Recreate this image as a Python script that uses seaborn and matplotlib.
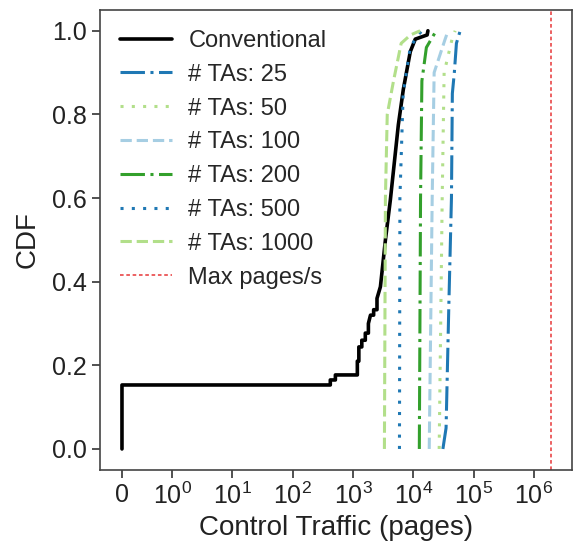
import numpy as np
import pandas as pd
import seaborn as sns
import matplotlib.pyplot as plt
from matplotlib.ticker import NullLocator

# CDF curves (x = control traffic in pages, y = CDF)
conv_x = [0, 0, 420, 420, 510, 510, 1180, 1180, 1250, 1250, 1400, 1400, 1600,
          1600, 1800, 1800, 1950, 2200, 2200, 2500, 2500, 2850, 3450, 4170,
          5650, 6840, 8920, 10800, 17000, 17500]
conv_cdf = [0.0, 0.153, 0.153, 0.165, 0.165, 0.177, 0.177, 0.21, 0.21, 0.244,
            0.244, 0.26, 0.26, 0.277, 0.277, 0.30, 0.32, 0.32, 0.333, 0.333,
            0.36, 0.388, 0.50, 0.596, 0.775, 0.86, 0.95, 0.98, 0.99, 1.0]

ta25_x = [31000, 35000, 39000, 43000, 44500, 48000, 52000, 60000]
ta25_cdf = [0.0, 0.05, 0.35, 0.6, 0.85, 0.9, 0.97, 1.0]

ta50_x = [26900, 30200, 32500, 44000, 49500]
ta50_cdf = [0.0, 0.6, 0.9, 0.98, 1.0]

ta100_x = [18400, 20600, 22200, 33800, 37800]
ta100_cdf = [0.0, 0.6, 0.9, 0.98, 1.0]

ta200_x = [12600, 13200, 13900, 16500, 24000]
ta200_cdf = [0.0, 0.6, 0.88, 0.96, 1.0]

ta500_x = [5900, 6000, 6800, 8900, 12000, 14000]
ta500_cdf = [0.0, 0.6, 0.85, 0.96, 0.99, 1.0]

ta1000_x = [3320, 3450, 3700, 4700, 6300, 9000, 13000]
ta1000_cdf = [0.0, 0.6, 0.8, 0.88, 0.97, 0.99, 1.0]

max_pages = 1.9e6

labels = ["Conventional", "# TAs: 25", "# TAs: 50", "# TAs: 100",
          "# TAs: 200", "# TAs: 500", "# TAs: 1000"]

sns.set_style("ticks")
plt.rcParams["font.family"] = ["Liberation Sans", "DejaVu Sans"]

pal = sns.color_palette("Paired")
dashdot = (0, (8, 1.8, 1, 1.8))
dots = (0, (1, 2.7))

series = [
    (conv_x, conv_cdf, "black", "-", 2.6),
    (ta25_x, ta25_cdf, pal[1], dashdot, 2.2),
    (ta50_x, ta50_cdf, pal[2], dots, 2.2),
    (ta100_x, ta100_cdf, pal[0], "--", 2.2),
    (ta200_x, ta200_cdf, pal[3], dashdot, 2.2),
    (ta500_x, ta500_cdf, pal[1], dots, 2.2),
    (ta1000_x, ta1000_cdf, pal[2], "--", 2.2),
]

fig, ax = plt.subplots(figsize=(5.74, 5.47), dpi=100)
fig.subplots_adjust(left=0.174, right=0.9965, top=0.982, bottom=0.141)

for (xs, ys, col, ls, lw), lab in zip(series, labels):
    sns.lineplot(x=xs, y=ys, ax=ax, color=col, linestyle=ls, linewidth=lw,
                 sort=False, estimator=None, label=lab)

ax.axvline(max_pages, color=pal[5], alpha=0.75, linestyle=(0, (2, 1.5)),
           linewidth=1.3, label="Max pages/s")

ax.set_xscale("symlog", linthresh=1, linscale=0.75)
ax.set_xlim(-0.44, 4.3e6)
ax.set_ylim(-0.05, 1.05)
ax.set_xticks([0, 1, 10, 100, 1e3, 1e4, 1e5, 1e6])
ax.xaxis.set_minor_locator(NullLocator())
ax.set_yticks([0.0, 0.2, 0.4, 0.6, 0.8, 1.0])

ax.set_xlabel("Control Traffic (pages)", fontsize=20, color="#222222")
ax.set_ylabel("CDF", fontsize=20, color="#222222", labelpad=8)
ax.tick_params(labelsize=18, colors="#222222", length=6, width=1.1)
for sp in ax.spines.values():
    sp.set_color("#444444")
    sp.set_linewidth(1.2)

ax.legend(loc="upper left", frameon=False, fontsize=17, handlelength=2.2,
          labelspacing=0.5, borderaxespad=0.45, handletextpad=0.7)

fig.savefig("out.png", dpi=100)
